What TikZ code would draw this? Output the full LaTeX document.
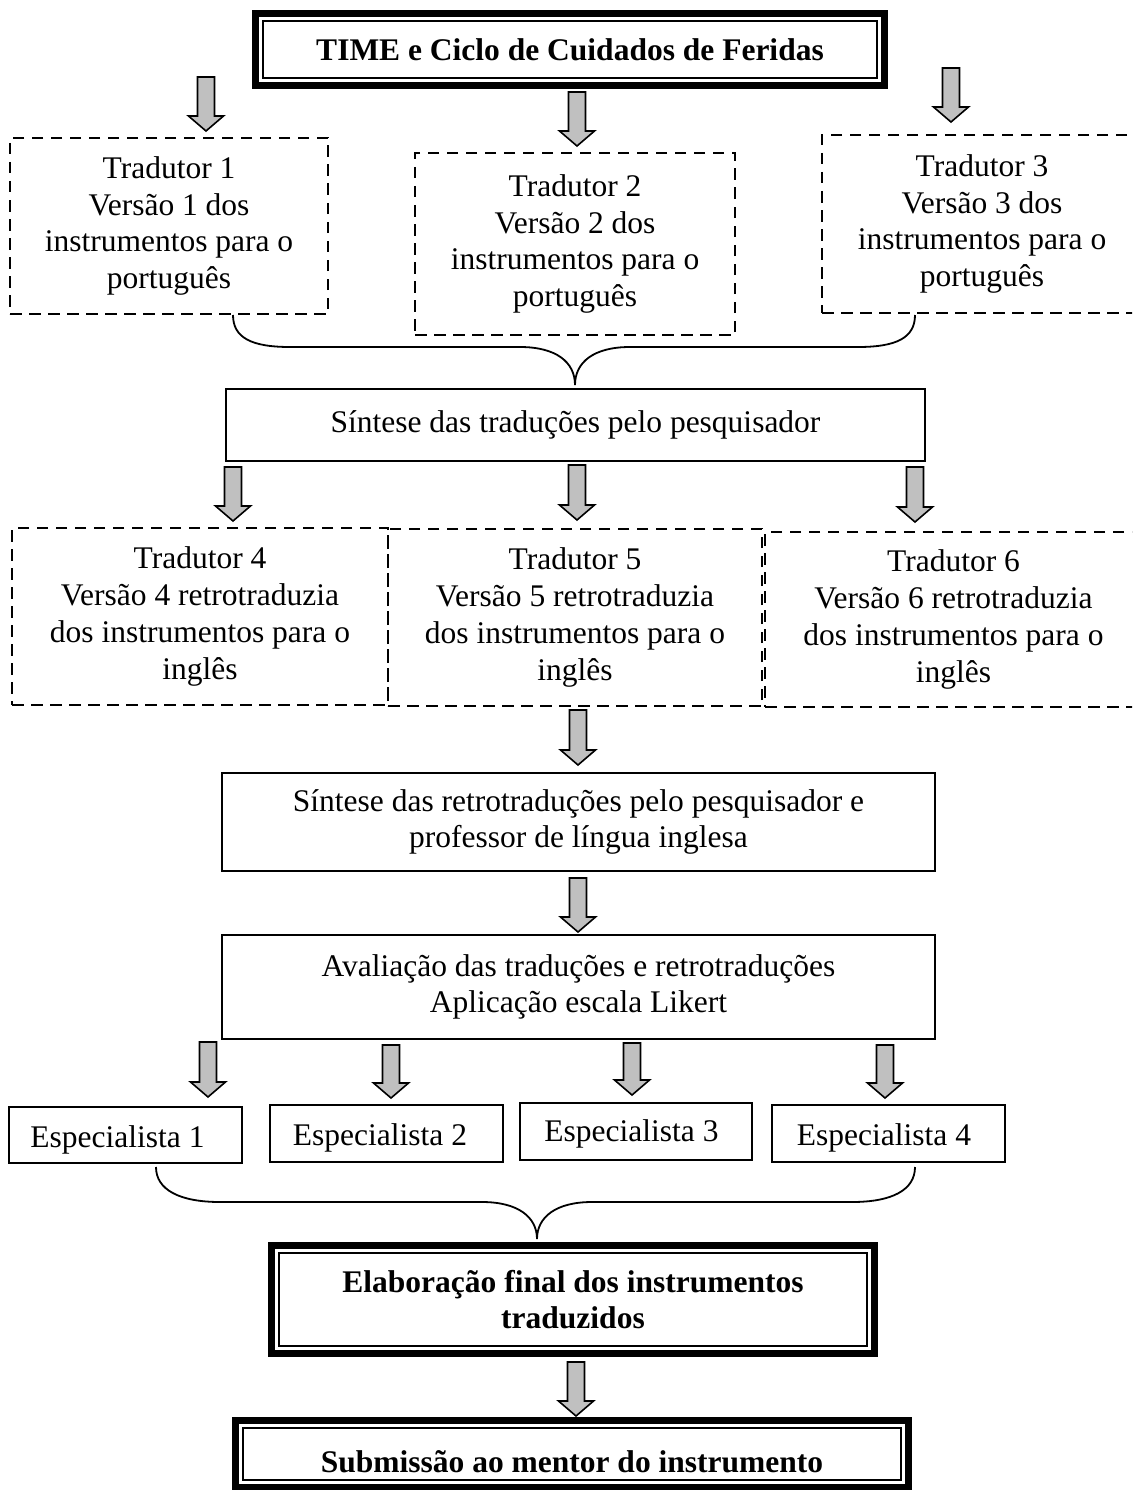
\documentclass[tikz,border=0pt]{standalone}
\usepackage{fontspec}
\setmainfont{Liberation Serif}
\definecolor{arrgray}{RGB}{192,192,192}
\newcommand\garrow[3]{% x, top, tip
  \draw[garr] (#1-8.5,#2) -- (#1+8.5,#2) -- (#1+8.5,#3-15) -- (#1+17.5,#3-15) -- (#1,#3) -- (#1-17.5,#3-15) -- (#1-8.5,#3-15) -- cycle;}
\newcommand\dframe[1]{%
  \draw[line width=7pt] ([shift={(3.5pt,-3.5pt)}]#1.north west) rectangle ([shift={(-3.5pt,3.5pt)}]#1.south east);
  \draw[line width=2pt] ([shift={(11pt,-11pt)}]#1.north west) rectangle ([shift={(-11pt,11pt)}]#1.south east);}
\begin{document}
\begin{tikzpicture}[x=1pt,y=-1pt,
  txt/.style={align=center,inner sep=0pt,font=\fontsize{31.5}{36.7}\selectfont},
  btxt/.style={align=center,inner sep=0pt,font=\fontsize{31.5}{36.7}\selectfont\bfseries},
  dbox/.style={txt,draw,line width=2.3pt,dash pattern=on 11.5pt off 7.5pt},
  sbox/.style={txt,draw,line width=2pt},
  garr/.style={draw,fill=arrgray,line width=1.6pt,line join=miter},
  bracepath/.style={draw,line width=1.8pt}]
\useasboundingbox (0,0) rectangle (1132,1490);
\clip (0,0) rectangle (1132,1490);
\fill[white] (0,0) rectangle (1132,1490);

% title
\node[btxt,minimum width=636pt,minimum height=79pt] (time) at (570,49.5) {TIME e Ciclo de Cuidados de Feridas};
\dframe{time}

% arrows row 1
\garrow{206}{77}{131}
\garrow{577}{92}{146}
\garrow{951}{68}{122}

% translators
\node[dbox,minimum width=318pt,minimum height=176pt] (t1) at (169,226) {Tradutor 1\\Versão 1 dos\\instrumentos para o\\português};
\node[dbox,minimum width=320pt,minimum height=182pt] (t2) at (575,244) {Tradutor 2\\Versão 2 dos\\instrumentos para o\\português};
\node[dbox,minimum width=320pt,minimum height=178pt] (t3) at (982,224) {Tradutor 3\\Versão 3 dos\\instrumentos para o\\português};

% brace 1
\coordinate (b1l) at (233,315);
\coordinate (b1r) at (915,315);
\coordinate (b1t) at (575,385);
\draw[bracepath] (b1l) .. controls (233,338) and (252,347) .. (290,347) -- (520,347)
  .. controls (556,347) and (575,362) .. (b1t)
  .. controls (575,362) and (594,347) .. (630,347) -- (858,347)
  .. controls (896,347) and (915,338) .. (b1r);

% synthesis
\node[sbox,minimum width=699pt,minimum height=72pt] (s1) at (575.5,425) {Síntese das traduções pelo pesquisador};

% arrows row 2
\garrow{233}{467}{521}
\garrow{577}{465}{520}
\garrow{915}{467}{522}

% back translators
\node[dbox,minimum width=376pt,minimum height=177pt] (t4) at (200,616.5) {Tradutor 4\\Versão 4 retrotraduzia\\dos instrumentos para o\\inglês};
\node[dbox,minimum width=374pt,minimum height=177pt] (t5) at (575,617.5) {Tradutor 5\\Versão 5 retrotraduzia\\dos instrumentos para o\\inglês};
\node[dbox,minimum width=377pt,minimum height=175pt] (t6) at (953.5,619.5) {Tradutor 6\\Versão 6 retrotraduzia\\dos instrumentos para o\\inglês};

\garrow{578}{710}{765}

\node[sbox,minimum width=713pt,minimum height=98pt] (s2) at (578.5,822) {Síntese das retrotraduções pelo pesquisador e\\professor de língua inglesa};

\garrow{578}{878}{932}

\node[sbox,minimum width=713pt,minimum height=104pt] (s3) at (578.5,987) {Avaliação das traduções e retrotraduções\\Aplicação escala Likert};

% arrows row 4
\garrow{208}{1042}{1097}
\garrow{391}{1045}{1098}
\garrow{632}{1043}{1095}
\garrow{885}{1045}{1098}

% specialists
\node[sbox,minimum width=233pt,minimum height=56pt] (e1) at (125.5,1135) {};
\node[txt] (e1t) at (117.5,1139.5) {Especialista 1};
\node[sbox,minimum width=233pt,minimum height=57pt] (e2) at (386.5,1133.5) {};
\node[txt] (e2t) at (380,1138) {Especialista 2};
\node[sbox,minimum width=232pt,minimum height=57pt] (e3) at (636,1131) {};
\node[txt] (e3t) at (631.5,1134) {Especialista 3};
\node[sbox,minimum width=233pt,minimum height=57pt] (e4) at (888.5,1133.5) {};
\node[txt] (e4t) at (884,1138) {Especialista 4};

% brace 2
\coordinate (b2l) at (156,1167);
\coordinate (b2r) at (915,1167);
\coordinate (b2t) at (537,1239);
\draw[bracepath] (b2l) .. controls (156,1190) and (180,1202) .. (220,1202) -- (482,1202)
  .. controls (518,1202) and (537,1217) .. (b2t)
  .. controls (537,1217) and (556,1202) .. (592,1202) -- (852,1202)
  .. controls (892,1202) and (915,1190) .. (b2r);

% final
\node[btxt,minimum width=610pt,minimum height=115pt] (fin) at (573,1299.5) {Elaboração final dos instrumentos\\traduzidos};
\dframe{fin}

\garrow{576}{1362}{1416}

\node[minimum width=680pt,minimum height=74pt,inner sep=0pt] (sub) at (572,1454) {};
\dframe{sub}
\node[btxt] (subt) at (572,1462) {Submissão ao mentor do instrumento};
\end{tikzpicture}
\end{document}
